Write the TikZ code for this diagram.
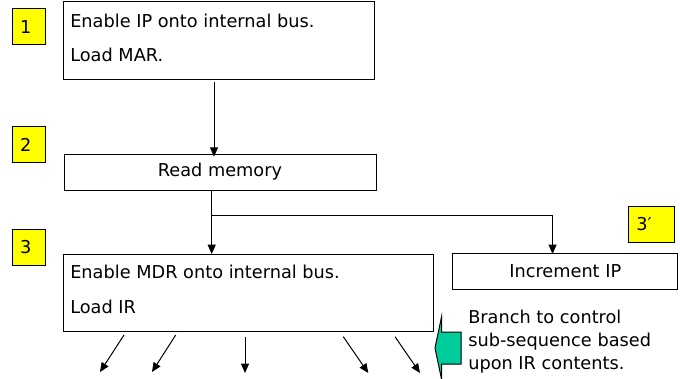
\documentclass[tikz,border=0pt]{standalone}
\usepackage{fontspec}
\setmainfont{DejaVu Sans}
\usetikzlibrary{arrows.meta}
\definecolor{stepyellow}{RGB}{255,255,0}
\definecolor{branchgreen}{RGB}{0,204,153}
\tikzset{
  procbox/.style={draw, line width=0.75pt, inner sep=0pt, outer sep=0pt},
  stepbox/.style={draw, fill=stepyellow, line width=0.75pt, inner xsep=6pt, inner ysep=0pt, minimum height=27pt, text width=#1, align=left},
  flow/.style={line width=0.75pt, -{Triangle[length=7pt,width=6pt]}},
}
\begin{document}
\begin{tikzpicture}[x=0.75pt,y=0.75pt,yscale=-1,xscale=1,font=\fontsize{13.3}{16}\selectfont]
    \useasboundingbox (0,0) rectangle (680,378);

    %Shape: Rectangle [fetch]
    \node [procbox, minimum width=233.25pt, minimum height=57.75pt] (fetch) at (218.5,40.5) {};
    %Shape: Rectangle [read memory]
    \node [procbox, minimum width=234pt, minimum height=27pt] (rdmem) at (220,172) {Read memory};
    %Shape: Rectangle [decode]
    \node [procbox, minimum width=277.5pt, minimum height=57.75pt] (decode) at (248,292.5) {};
    %Shape: Rectangle [increment]
    \node [procbox, minimum width=169.1pt, minimum height=26.5pt] (incip) at (565.25,271.6) {Increment IP};

    %Shape: Step labels
    \node [stepbox=12.75pt] (step1) at (28.5,27) {1};
    \node [stepbox=12.75pt] (step2) at (28.5,144.5) {2};
    \node [stepbox=12.75pt] (step3) at (28.6,247) {3};
    \node [stepbox=22.5pt] (step3b) at (651.3,224.2) {3\symbol{"2032}};

    % Text Node
    \node [anchor=base west, inner sep=0pt] (fetchA) at (70,27.3) {Enable IP onto internal bus.};
    % Text Node
    \node [anchor=base west, inner sep=0pt] (fetchB) at (70,61.7) {Load MAR.};
    % Text Node
    \node [anchor=base west, inner sep=0pt] (decodeA) at (70,278.7) {Enable MDR onto internal bus.};
    % Text Node
    \node [anchor=base west, inner sep=0pt] (decodeB) at (70,313.3) {Load IR};

    %Straight Lines
    \draw [flow] ([shift={(-4.5,2.7)}]fetch.south) -- ([shift={(-4.5,2.7)}]fetch.south |- rdmem.north);
    \draw [flow] ([shift={(-8.3,0)}]rdmem.south) -- ([shift={(-8.3,0)}]rdmem.south |- decode.north);
    \coordinate (split) at ([shift={(-8.3,25.7)}]rdmem.south);
    \draw [flow] (split) -| ([shift={(-12.7,0)}]incip.north);

    %Straight Lines [branches]
    \coordinate (out1) at (100,372);
    \coordinate (out2) at (152,372);
    \coordinate (out3) at (245,373);
    \coordinate (out4) at (368.3,373);
    \coordinate (out5) at (420,373);
    \draw [flow] ([shift={(61,4)}]decode.south west) -- (out1);
    \draw [flow] ([shift={(112.7,4)}]decode.south west) -- (out2);
    \draw [flow] ([shift={(182,5.7)}]decode.south west) -- (out3);
    \draw [flow] ([shift={(280.3,5.7)}]decode.south west) -- (out4);
    \draw [flow] ([shift={(332,5.7)}]decode.south west) -- (out5);

    %Shape: Left Arrow
    \draw [fill=branchgreen, line width=0.75pt] (435,348) -- (441.5,317) -- (441.5,332) -- (461,332) -- (461,364) -- (441.5,364) -- (441.5,379) -- cycle;

    % Text Node
    \node [anchor=base west, inner sep=0pt] (noteA) at (468,323) {Branch to control};
    % Text Node
    \node [anchor=base west, inner sep=0pt] (noteB) at (468,346) {sub-sequence based};
    % Text Node
    \node [anchor=base west, inner sep=0pt] (noteC) at (468,369) {upon IR contents.};

\end{tikzpicture}
\end{document}
